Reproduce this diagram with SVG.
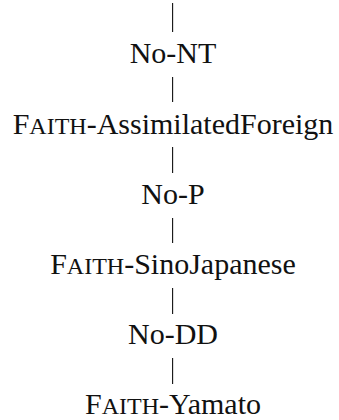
<svg xmlns="http://www.w3.org/2000/svg" width="339" height="420" viewBox="0 0 339 420">
<style>
text{font-family:"Liberation Serif","Times New Roman",serif;font-size:30px;fill:#111;text-anchor:middle}
.sc{font-size:24px}
.c line{stroke:#111;stroke-width:1.1}
</style>
<rect width="339" height="420" fill="#fff"/>
<g class="c" id="connectors">
<line x1="172.6" y1="3" x2="172.6" y2="32"/>
<line x1="172.6" y1="77" x2="172.6" y2="102"/>
<line x1="172.6" y1="147" x2="172.6" y2="173"/>
<line x1="172.6" y1="218" x2="172.6" y2="243"/>
<line x1="172.6" y1="288" x2="172.6" y2="314"/>
<line x1="172.6" y1="358" x2="172.6" y2="384"/>
</g>
<g id="no-nt"><text x="173" y="62.5">No-NT</text></g>
<g id="faith-af"><text x="173" y="134">F<tspan class="sc">AITH</tspan>-AssimilatedForeign</text></g>
<g id="no-p"><text x="173" y="203.5">No-P</text></g>
<g id="faith-sj"><text x="173" y="274">F<tspan class="sc">AITH</tspan>-SinoJapanese</text></g>
<g id="no-dd"><text x="173" y="344">No-DD</text></g>
<g id="faith-y"><text x="173" y="414">F<tspan class="sc">AITH</tspan>-Yamato</text></g>
</svg>
